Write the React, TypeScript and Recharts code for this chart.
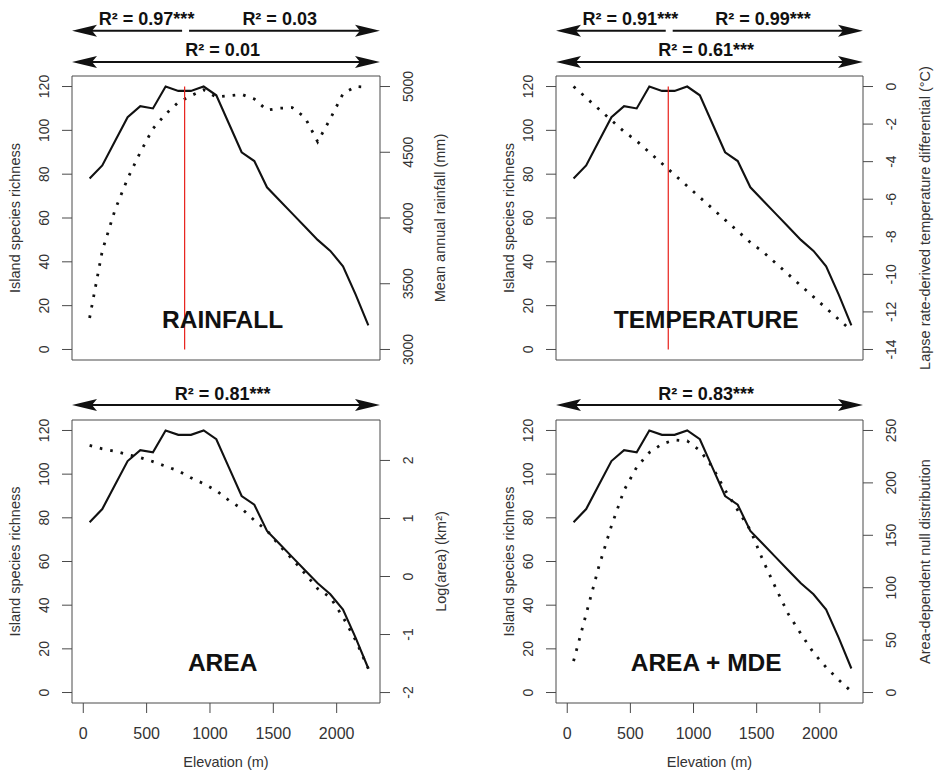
import React from 'react'
import { LineChart, Line, XAxis, YAxis, ReferenceLine, ReferenceDot } from 'recharts'

// values, one per 100 m elevation band
const elevation = [50, 150, 250, 350, 450, 550, 650, 750, 850, 950, 1050, 1150, 1250, 1350, 1450, 1550, 1650, 1750, 1850, 1950, 2050, 2150, 2250]
const richness = [78, 84, 95, 106, 111, 110, 120, 118, 118, 120, 116, 103, 90, 86, 74, 68, 62, 56, 50, 45, 38, 25, 11]
const rainfall = [3240, 3750, 4060, 4300, 4500, 4680, 4790, 4880, 4930, 4975, 4920, 4930, 4940, 4905, 4820, 4835, 4840, 4765, 4580, 4755, 4945, 5000, 4995]
const tempDiff = [0, -0.6, -1.2, -1.8, -2.4, -2.9, -3.5, -4.1, -4.7, -5.3, -5.9, -6.5, -7.1, -7.7, -8.3, -8.8, -9.4, -10.0, -10.6, -11.2, -11.8, -12.4, -13.0]
const logArea = [2.26, 2.2, 2.16, 2.1, 2.05, 1.98, 1.9, 1.82, 1.7, 1.6, 1.48, 1.31, 1.17, 0.97, 0.79, 0.53, 0.3, 0.05, -0.21, -0.36, -0.7, -1.1, -1.59]
const mdeNull = [30, 75, 120, 159, 193, 215, 229, 237, 241, 240, 231, 215, 193, 174, 155, 126, 100, 75, 56, 38, 24, 12, 1]

const xTicks = [0, 500, 1000, 1500, 2000]
const richTicks = [0, 20, 40, 60, 80, 100, 120]
const rainTicks = [3000, 3500, 4000, 4500, 5000]
const tempTicks = [0, -2, -4, -6, -8, -10, -12, -14]
const areaTicks = [-2, -1, 0, 1, 2]
const mdeTicks = [0, 50, 100, 150, 200, 250]

const rows = elevation.map((e, i) => ({
  elev: e,
  richness: richness[i],
  rainfall: rainfall[i],
  temp: tempDiff[i],
  area: logArea[i],
  mde: mdeNull[i],
}))

const X0 = -89
const X1 = 2342
const INK = '#111'
const AXIS = '#4a4a4a'
const TXT = '#333'

const arrowShape = (heads: 'start' | 'end' | 'both') => (p: any) => {
  const { x1, y1, x2 } = p
  const L = 25, H = 6
  const s = heads !== 'end'
  const e = heads !== 'start'
  const head = (tip: number, dir: number) =>
    `${tip},${y1} ${tip + dir * L},${y1 - H} ${tip + dir * L * 0.8},${y1} ${tip + dir * L},${y1 + H}`
  return (
    <g>
      <line x1={s ? x1 + L * 0.8 : x1} y1={y1} x2={e ? x2 - L * 0.8 : x2} y2={y1} stroke={INK} strokeWidth={2} />
      {s && <polygon points={head(x1, 1)} fill={INK} />}
      {e && <polygon points={head(x2, -1)} fill={INK} />}
    </g>
  )
}

const textShape = (text: string, size: number) => (p: any) => (
  <text x={p.cx} y={p.cy} textAnchor="middle" fontSize={size} fontWeight="bold" fill={INK}>{text}</text>
)

const rotTick = (shift: number) => (p: any) => (
  <text transform={`translate(${p.x + shift},${p.y}) rotate(-90)`} textAnchor="middle" dominantBaseline="central" fontSize={14} fill={TXT}>
    {p.payload.value}
  </text>
)

function YTitle({ viewBox, text, side, dist }: any) {
  const cx = side === 'left' ? viewBox.x + viewBox.width - dist : viewBox.x + dist
  const cy = viewBox.y + viewBox.height / 2
  return (
    <text transform={`translate(${cx},${cy}) rotate(-90)`} textAnchor="middle" dominantBaseline="central" fontSize={14.5} fill={TXT}>
      {text}
    </text>
  )
}

function XTitle({ viewBox }: any) {
  return (
    <text x={viewBox.x + viewBox.width / 2} y={viewBox.y + 64} textAnchor="middle" fontSize={14.5} fill={TXT}>
      Elevation (m)
    </text>
  )
}

type Arrow = { from: number; to: number; y: number; heads: 'start' | 'end' | 'both' }
type Note = { x: number; y: number; text: string }

function Panel(props: {
  left: number; top: number; width: number; height: number; marginTop: number
  leftW: number; rightW: number; xH: number; xLabels: boolean
  rightKey: string; rightDomain: [number, number]; rightTicks: number[]; rightTitle: string
  leftDist: number; rightDist: number; label: string; redLine: boolean
  arrows: Arrow[]; notes: Note[]
}) {
  const p = props
  return (
    <div style={{ position: 'absolute', left: p.left, top: p.top }}>
      <LineChart width={p.width} height={p.height} data={rows} margin={{ top: p.marginTop, right: 0, bottom: 0, left: 0 }}>
        <XAxis xAxisId="top" orientation="top" type="number" dataKey="elev" domain={[X0, X1]} allowDataOverflow height={1}
          tick={false} tickLine={false} axisLine={{ stroke: AXIS }} />
        <XAxis type="number" dataKey="elev" domain={[X0, X1]} allowDataOverflow ticks={xTicks} interval={0} height={p.xH}
          tickSize={10} tickMargin={15} axisLine={{ stroke: AXIS }} tickLine={{ stroke: AXIS }}
          tick={p.xLabels ? { fontSize: 16, fill: TXT } : false}
          label={p.xLabels ? <XTitle /> : undefined} />
        <YAxis yAxisId="left" type="number" domain={[-4.8, 124.8]} allowDataOverflow ticks={richTicks} interval={0} width={p.leftW}
          tickSize={10} tickMargin={0} axisLine={{ stroke: AXIS }} tickLine={{ stroke: AXIS }} tick={rotTick(-18.5)}
          label={<YTitle text="Island species richness" side="left" dist={p.leftDist} />} />
        <YAxis yAxisId="right" orientation="right" type="number" domain={p.rightDomain} allowDataOverflow ticks={p.rightTicks} interval={0}
          width={p.rightW} tickSize={10} tickMargin={0} axisLine={{ stroke: AXIS }} tickLine={{ stroke: AXIS }} tick={rotTick(18)}
          label={<YTitle text={p.rightTitle} side="right" dist={p.rightDist} />} />
        <Line yAxisId="right" type="linear" dataKey={p.rightKey} stroke={INK} strokeWidth={2.8} strokeDasharray="2.6 8"
          dot={false} isAnimationActive={false} />
        <Line yAxisId="left" type="linear" dataKey="richness" stroke={INK} strokeWidth={2.1} dot={false} isAnimationActive={false} />
        {p.redLine && (
          <ReferenceLine yAxisId="left" segment={[{ x: 800, y: 0 }, { x: 800, y: 120 }]} stroke="#e8201a" strokeWidth={1.2} />
        )}
        {p.arrows.map((a, i) => (
          <ReferenceLine key={'a' + i} yAxisId="left" ifOverflow="visible"
            segment={[{ x: a.from, y: a.y }, { x: a.to, y: a.y }]} shape={arrowShape(a.heads)} />
        ))}
        {p.notes.map((n, i) => (
          <ReferenceDot key={'n' + i} yAxisId="left" x={n.x} y={n.y} ifOverflow="visible" shape={textShape(n.text, 18)} />
        ))}
        <ReferenceDot yAxisId="left" x={1100} y={10} shape={textShape(p.label, 24.5)} />
      </LineChart>
    </div>
  )
}

const topArrows: Arrow[] = [
  { from: X0, to: 780, y: 145.5, heads: 'start' },
  { from: 835, to: X1, y: 145.5, heads: 'end' },
  { from: X0, to: X1, y: 131.2, heads: 'both' },
]
const bottomArrows: Arrow[] = [{ from: X0, to: X1, y: 131.7, heads: 'both' }]

export default function App() {
  return (
    <div style={{ position: 'absolute', left: 0, top: 0, width: 934, height: 771, background: '#fff', fontFamily: '"Liberation Sans", Arial, sans-serif' }}>
      <Panel left={0} top={0} width={467} height={380} marginTop={75} leftW={72} rightW={87} xH={20} xLabels={false}
        rightKey="rainfall" rightDomain={[2920, 5080]} rightTicks={rainTicks} rightTitle="Mean annual rainfall (mm)"
        leftDist={57} rightDist={60} label="RAINFALL" redLine arrows={topArrows}
        notes={[
          { x: 500, y: 148.1, text: 'R² = 0.97***' },
          { x: 1550, y: 148.1, text: 'R² = 0.03' },
          { x: 1100, y: 133.9, text: 'R² = 0.01' },
        ]} />
      <Panel left={467} top={0} width={467} height={380} marginTop={75} leftW={89} rightW={71} xH={20} xLabels={false}
        rightKey="temp" rightDomain={[-14.56, 0.56]} rightTicks={tempTicks} rightTitle="Lapse rate-derived temperature differential (°C)"
        leftDist={47.5} rightDist={62} label="TEMPERATURE" redLine arrows={topArrows}
        notes={[
          { x: 500, y: 148.1, text: 'R² = 0.91***' },
          { x: 1550, y: 148.1, text: 'R² = 0.99***' },
          { x: 1100, y: 133.9, text: 'R² = 0.61***' },
        ]} />
      <Panel left={0} top={380} width={467} height={391} marginTop={39} leftW={72} rightW={87} xH={68} xLabels
        rightKey="area" rightDomain={[-2.18, 2.697]} rightTicks={areaTicks} rightTitle="Log(area) (km²)"
        leftDist={57} rightDist={61} label="AREA" redLine={false} arrows={bottomArrows}
        notes={[{ x: 1100, y: 134.0, text: 'R² = 0.81***' }]} />
      <Panel left={467} top={380} width={467} height={391} marginTop={39} leftW={89} rightW={71} xH={68} xLabels
        rightKey="mde" rightDomain={[-10, 260]} rightTicks={mdeTicks} rightTitle="Area-dependent null distribution"
        leftDist={47.5} rightDist={62} label="AREA + MDE" redLine={false} arrows={bottomArrows}
        notes={[{ x: 1100, y: 134.0, text: 'R² = 0.83***' }]} />
    </div>
  )
}
